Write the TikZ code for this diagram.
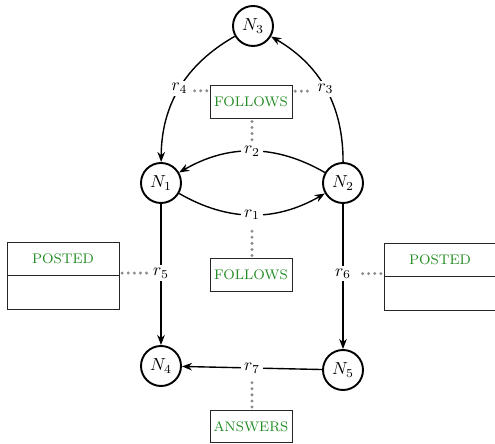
\documentclass[tikz,border=0pt]{standalone}
\usetikzlibrary{arrows.meta,calc}
\definecolor{reltext}{RGB}{34,139,34}
\begin{document}
\begin{tikzpicture}[x=0.575pt,y=0.575pt,
  entity/.style={circle,draw,line width=1.1pt,minimum size=23pt,inner sep=0pt},
  rel/.style={line width=0.8pt,-{Stealth[length=5.8pt,width=4.4pt]}},
  lbl/.style={fill=white,inner sep=1.6pt},
  typebox/.style={rectangle,draw=black!85,line width=0.45pt,minimum width=47.2pt,minimum height=18.7pt,inner sep=0pt,text=reltext,font=\footnotesize},
  postbox/.style={rectangle,draw=black!85,line width=0.45pt,minimum width=64.4pt,minimum height=38.5pt,inner sep=0pt},
  link/.style={draw=black!45,line width=1.9pt,line cap=round,dash pattern=on 0pt off 3.5pt,shorten <=1.6pt,shorten >=1.4pt}
]
\useasboundingbox (0,0) rectangle (495,444);

% entities
\node[entity] (N3) at (253,418) {$N_3$};
\node[entity] (N1) at (161,261) {$N_1$};
\node[entity] (N2) at (343,261) {$N_2$};
\node[entity] (N4) at (161,78) {$N_4$};
\node[entity] (N5) at (343,74) {$N_5$};

% relationships
\draw[rel] (N3) to[bend right=30] node[lbl] (r4) {$r_4$} (N1);
\draw[rel] (N2) to[bend right=30] node[lbl] (r3) {$r_3$} (N3);
\draw[rel] (N2) to[bend right=30] node[lbl] (r2) {$r_2$} (N1);
\draw[rel] (N1) to[bend right=30] node[lbl] (r1) {$r_1$} (N2);
\draw[rel] (N1) -- node[lbl,pos=0.49] (r5) {$r_5$} (N4);
\draw[rel] (N2) -- node[lbl,pos=0.48] (r6) {$r_6$} (N5);
\draw[rel] (N5) -- node[lbl] (r7) {$r_7$} (N4);

% relationship types
\node[typebox] (ftop) at (251,342) {FOLLOWS};
\node[typebox] (fmid) at (251,169) {FOLLOWS};
\node[typebox] (ans) at (251,17.5) {ANSWERS};

\node[postbox] (pl) at (63,168.5) {};
\draw[black!85,line width=0.45pt] (pl.west) -- (pl.east);
\node[text=reltext,font=\footnotesize] (plt) at ($(pl.north)!0.5!(pl.center)$) {POSTED};

\node[postbox] (pr) at (440,167.5) {};
\draw[black!85,line width=0.45pt] (pr.west) -- (pr.east);
\node[text=reltext,font=\footnotesize] (prt) at ($(pr.north)!0.5!(pr.center)$) {POSTED};

% dotted links from types to labels
\path[link] (r4.base east -| ftop.west) -- (r4.base east);
\path[link] (r3.base west -| ftop.east) -- (r3.base west);
\path[link] (ftop.south -| r2.north) -- (r2.north);
\path[link] (fmid.north -| r1.south) -- (r1.south);
\path[link] (r5.west -| pl.east) -- (r5.west);
\path[link] (r6.east -| pr.west) -- (r6.east);
\path[link] (ans.north -| r7.south) -- (r7.south);
\end{tikzpicture}
\end{document}
